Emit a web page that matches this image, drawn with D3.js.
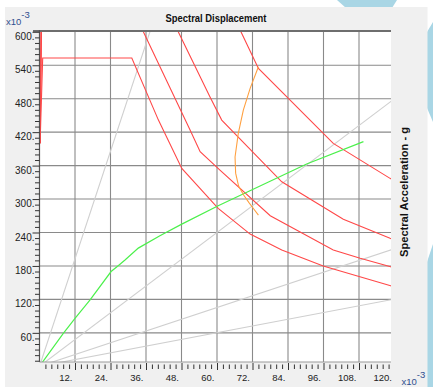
<!DOCTYPE html>
<html><head><meta charset="utf-8">
<script src="https://cdn.jsdelivr.net/npm/d3@7"></script>
<style>
html,body{margin:0;padding:0;background:#fff;}
svg{display:block;}
</style></head>
<body>
<svg id="chart" width="433" height="387"></svg>
<script>
// ---- data (Sd x10^-3, Sa x10^-3 g) ----
const xTickValues = [12,24,36,48,60,72,84,96,108,120];
const yTickValues = [60,120,180,240,300,360,420,480,540,600];

// constant-period radial lines: far end points
const periodLineEnds = [[40,643],[120,480],[120,211],[120,120.5]];

// demand spectra
const demandB  = [[0.2,400],[1.08,553],[31.2,553],[40.2,441.6],[48.1,355],[60.4,283.3],[71.2,237.2],[81.9,208.5],[95.9,179.8],[118.7,144.5],[120,142.6]];
const demandC1 = [[0.2,400],[0.7,612],[34.0,612],[35.1,600],[50.9,423.8],[54.3,384.8],[61.0,352],[78,270],[99.3,208.6],[108.4,193.7],[118.7,178.6],[120,176.7]];
const demandC2 = [[0.2,400],[0.6,612],[46.3,612],[46.9,600],[57.6,483.4],[61.6,441.6],[81.9,331],[102.7,263.6],[118.5,229.5],[120,227]];
const demandD  = [[0.2,400],[0.5,612],[67.6,612],[68.1,600],[74.0,534.3],[99.3,399.9],[118.5,337.1],[120,333.5]];
const demandCurves = [demandB, demandC1, demandC2, demandD];

// performance point locus
const locus = [[74.0,537.2],[71.2,498.5],[68.9,459.6],[67.2,417.8],[66.1,375.5],[66.3,346.5],[67.3,323.3],[69.0,307.2],[70.8,293.7],[72.3,283],[74.0,271.3]];

// capacity curve
const capacity = [[0,0],[8.05,59.2],[12,86],[17.1,119],[24.2,170],[26.5,180],[28.9,190.6],[33.4,212],[40.7,234],[48.1,255],[60.4,288],[90.3,363],[109.5,403]];

// ---- drawing ----
const svg = d3.select("#chart");
const W = 433, H = 387;
const plot = {left:39.5, top:31.5, right:391, bottom:362};
const x = d3.scaleLinear().domain([0,120]).range([39.5,394.5]);
const y = d3.scaleLinear().domain([0,600]).range([366.3,31.8]);

// decorative background
svg.append("rect").attr("width",W).attr("height",H).attr("fill","#fff");
const blue = "#a9d6e5";
svg.append("polygon").attr("points","337,0 397,0 392,8 346,8").attr("fill",blue);
svg.append("polygon").attr("points","427,32 433,22 433,122 427,108").attr("fill",blue);
svg.append("polygon").attr("points","433,244 427,262 427,387 433,387").attr("fill",blue);
svg.append("rect").attr("x",5).attr("y",7).attr("width",422.5).attr("height",380).attr("fill","#f0f0f0");

// plot area
svg.append("rect").attr("x",plot.left).attr("y",plot.top)
  .attr("width",plot.right-plot.left).attr("height",plot.bottom-plot.top).attr("fill","#fff");

svg.append("defs").append("clipPath").attr("id","clip")
  .append("rect").attr("x",plot.left).attr("y",plot.top)
  .attr("width",plot.right-plot.left).attr("height",plot.bottom-plot.top);

const g = svg.append("g").attr("clip-path","url(#clip)");

// grid
g.selectAll("line.vg").data(xTickValues.filter(v=>x(v)<plot.right)).enter().append("line")
  .attr("x1",d=>x(d)).attr("x2",d=>x(d)).attr("y1",plot.top).attr("y2",plot.bottom)
  .attr("stroke","#8a8a8a").attr("stroke-width",1.1);
g.selectAll("line.hg").data(yTickValues.filter(v=>v<600)).enter().append("line")
  .attr("y1",d=>y(d)).attr("y2",d=>y(d)).attr("x1",plot.left).attr("x2",plot.right)
  .attr("stroke","#8a8a8a").attr("stroke-width",1.1);

const line = d3.line().x(d=>x(d[0])).y(d=>y(d[1]));

// period lines
g.selectAll("path.per").data(periodLineEnds).enter().append("path")
  .attr("d",d=>line([[0,0],d])).attr("fill","none")
  .attr("stroke","#cfcfcf").attr("stroke-width",1.1);

// demand curves
g.selectAll("path.dem").data(demandCurves).enter().append("path")
  .attr("d",d=>line(d)).attr("fill","none")
  .attr("stroke","#ff4848").attr("stroke-width",1.1);

// capacity
g.append("path").attr("d",line(capacity)).attr("fill","none")
  .attr("stroke","#4cf04c").attr("stroke-width",1.2);

// locus
g.append("path").attr("d",line(locus)).attr("fill","none")
  .attr("stroke","#ffa040").attr("stroke-width",1.1);

// top border
svg.append("line").attr("x1",33).attr("x2",plot.right).attr("y1",31).attr("y2",31)
  .attr("stroke","#6e6e6e").attr("stroke-width",2);
// left axis line
svg.append("line").attr("x1",plot.left).attr("x2",plot.left).attr("y1",30).attr("y2",plot.bottom)
  .attr("stroke","#555").attr("stroke-width",1.2);
svg.append("line").attr("x1",plot.left).attr("x2",plot.right).attr("y1",plot.bottom).attr("y2",plot.bottom)
  .attr("stroke","#9a9a9a").attr("stroke-width",1);

// y axis
const yAxis = d3.axisLeft(y).tickValues(yTickValues).tickSize(7).tickFormat(d=>d+".");
const ya = svg.append("g").attr("transform",`translate(${plot.left},0)`).call(yAxis);
ya.select(".domain").remove();
ya.selectAll(".tick line").attr("stroke","#333");
ya.selectAll(".tick text").attr("x",-5).attr("dy","0.35em").attr("y",4)
  .attr("fill","#222").style("font-family","Liberation Sans, Arial, sans-serif").style("font-size","10px");

const yMinor = [];
for (let v = 10; v < 600; v += 10) if (v % 60 !== 0) yMinor.push(v);
const yMinorAxis = d3.axisLeft(y).tickValues(yMinor).tickSize(4.5).tickFormat("");
const ym = svg.append("g").attr("transform",`translate(${plot.left},0)`).call(yMinorAxis);
ym.select(".domain").remove();
ym.selectAll(".tick line").attr("stroke","#333");

// x axis
const xAxis = d3.axisBottom(x).tickValues(xTickValues).tickSize(8).tickFormat(d=>d+".");
const xa = svg.append("g").attr("transform",`translate(0,${plot.bottom})`).call(xAxis);
xa.select(".domain").remove();
xa.selectAll(".tick line").attr("stroke","#333").attr("y1",1)
  .attr("opacity",d=>x(d)>plot.right?0:1);
xa.selectAll(".tick text").attr("x",-3).attr("text-anchor","end").attr("y",15.5).attr("dy","0.35em")
  .attr("fill","#222").style("font-family","Liberation Sans, Arial, sans-serif").style("font-size","9.5px");

const xMinor = [];
for (let v = 2; v < 120; v += 2) if (v % 12 !== 0) xMinor.push(v);
const xMinorAxis = d3.axisBottom(x).tickValues(xMinor).tickSize(7).tickFormat("");
const xm = svg.append("g").attr("transform",`translate(0,${plot.bottom})`).call(xMinorAxis);
xm.select(".domain").remove();
xm.selectAll(".tick line").attr("stroke","#333").attr("y1",2.5);

// titles
const font = "Liberation Sans, Arial, sans-serif";
svg.append("text").attr("x",216).attr("y",21.5).attr("text-anchor","middle")
  .attr("font-family",font).attr("font-size","10px").attr("font-weight","bold").attr("fill","#111")
  .attr("textLength",101).attr("lengthAdjust","spacingAndGlyphs")
  .text("Spectral Displacement");
svg.append("text").attr("transform","translate(407.5,192) rotate(-90)").attr("text-anchor","middle")
  .attr("font-family",font).attr("font-size","10px").attr("font-weight","bold").attr("fill","#111")
  .attr("textLength",130).attr("lengthAdjust","spacingAndGlyphs")
  .text("Spectral Acceleration - g");

// multipliers
function mult(xp, yp) {
  const t = svg.append("text").attr("x",xp).attr("y",yp)
    .attr("font-family",font).attr("font-size","9.5px").attr("fill","#2f4f8f");
  t.append("tspan").text("x10");
  t.append("tspan").attr("dy",-7).attr("font-size","9.5px").text("-3");
}
mult(6, 24.5);
mult(401.5, 385);
</script>
</body></html>
